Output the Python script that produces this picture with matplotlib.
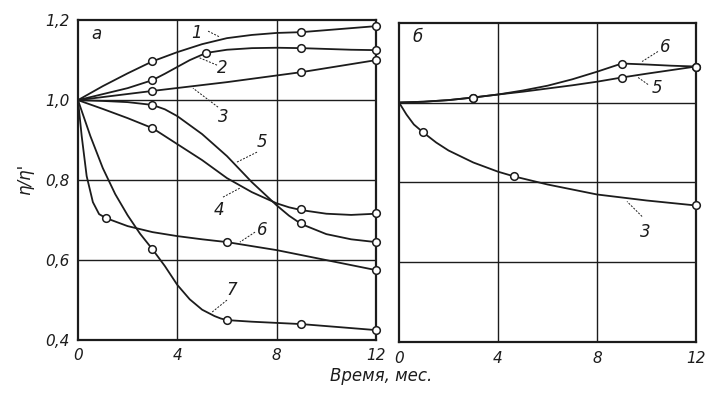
"""Относительная вязкость η/η' во времени — два поля (а, б)."""
import matplotlib
matplotlib.use("Agg")
import matplotlib.pyplot as plt

# ── данные: поле «а» (линии по точкам) ──
A_X1 = [0, 1, 2, 3, 4, 5, 6, 7, 8, 9, 10, 11, 12]
A_Y1 = [1.0, 1.035, 1.067, 1.097, 1.12, 1.14, 1.155, 1.163, 1.168, 1.17, 1.175, 1.18, 1.185]
A_X2 = [0, 1, 2, 3, 3.5, 4, 4.5, 5.16, 6, 7, 8, 9, 10, 11, 12]
A_Y2 = [1.0, 1.015, 1.03, 1.05, 1.066, 1.083, 1.1, 1.118, 1.126, 1.13, 1.131, 1.13, 1.128,
        1.126, 1.125]
A_X3 = [0, 3, 6, 9, 12]
A_Y3 = [1.0, 1.023, 1.045, 1.07, 1.10]
A_X4 = [0, 1, 2, 3, 4, 5, 6, 7, 8, 8.5, 9, 10, 11, 12]
A_Y4 = [1.0, 0.978, 0.955, 0.93, 0.89, 0.85, 0.805, 0.77, 0.742, 0.732, 0.725, 0.716, 0.713,
        0.716]
A_X5 = [0, 1, 2, 3, 3.5, 4, 5, 6, 7, 8, 8.5, 9, 10, 11, 12]
A_Y5 = [1.0, 0.998, 0.995, 0.988, 0.977, 0.96, 0.915, 0.86, 0.795, 0.737, 0.711, 0.69, 0.665,
        0.652, 0.645]
A_X6 = [0, 0.15, 0.35, 0.6, 0.85, 1.13, 2, 3, 4, 5, 6, 8, 10, 12]
A_Y6 = [1.0, 0.91, 0.81, 0.745, 0.715, 0.705, 0.685, 0.67, 0.66, 0.652, 0.645, 0.625, 0.6, 0.575]
A_X7 = [0, 0.5, 1, 1.5, 2, 2.5, 3, 3.5, 4, 4.5, 5, 5.5, 5.75, 6, 7, 8, 9, 10, 11, 12]
A_Y7 = [1.0, 0.91, 0.83, 0.765, 0.712, 0.666, 0.627, 0.585, 0.538, 0.502, 0.476, 0.46, 0.454,
        0.45, 0.446, 0.443, 0.44, 0.435, 0.43, 0.425]

# экспериментальные точки (кружки)
A_MX = [[3, 9, 12], [3, 5.16, 9, 12], [3, 9, 12], [3, 9, 12], [3, 9, 12],
        [1.13, 6, 12], [3, 6, 9, 12]]
A_MY = [[1.0975, 1.17, 1.185], [1.05, 1.118, 1.13, 1.125], [1.023, 1.07, 1.10],
        [0.93, 0.7275, 0.7175], [0.988, 0.6925, 0.645], [0.705, 0.645, 0.575],
        [0.627, 0.45, 0.44, 0.425]]

# ── поле «б» ──
B_X6 = [0, 1, 2, 3, 4, 5, 6, 7, 8, 9, 10, 11, 12]
B_Y6 = [1.0, 1.002, 1.006, 1.0125, 1.02, 1.03, 1.042, 1.058, 1.077, 1.0975, 1.095, 1.092, 1.09]
B_X5 = [0, 1, 2, 3, 4, 5, 6, 7, 8, 9, 10, 11, 12]
B_Y5 = [1.0, 1.002, 1.006, 1.0125, 1.02, 1.027, 1.035, 1.043, 1.052, 1.0625, 1.072, 1.081, 1.09]
B_X3 = [0, 0.3, 0.6, 0.98, 1.5, 2, 3, 4, 4.66, 6, 8, 10, 12]
B_Y3 = [1.0, 0.97, 0.945, 0.925, 0.9, 0.88, 0.85, 0.827, 0.815, 0.795, 0.77, 0.755, 0.7425]
B_MX = [[3, 9, 12], [3, 9, 12], [0.98, 4.66, 12]]
B_MY = [[1.0125, 1.0975, 1.09], [1.0125, 1.0625, 1.09], [0.925, 0.815, 0.7425]]

# номера кривых: (текст, позиция подписи, начало и конец выноски)
A_LABELS = [("1", (4.79, 1.1675), (5.24, 1.1725), (5.72, 1.1575)),
            ("2", (5.80, 1.080), (5.60, 1.0875), (4.83, 1.1075)),
            ("3", (5.84, 0.9575), (5.64, 0.9825), (4.63, 1.030)),
            ("5", (7.41, 0.895), (7.21, 0.870), (6.40, 0.845)),
            ("4", (5.68, 0.725), (5.84, 0.7575), (6.52, 0.780)),
            ("6", (7.41, 0.675), (7.13, 0.670), (6.52, 0.645)),
            ("7", (6.20, 0.525), (6.00, 0.500), (5.40, 0.470))]
B_LABELS = [("6", (10.75, 1.140), (10.46, 1.1275), (9.82, 1.1025)),
            ("5", (10.42, 1.0375), (10.06, 1.045), (9.66, 1.0625)),
            ("3", (9.94, 0.675), (9.82, 0.715), (9.21, 0.7525))]

X_TICKS = [0, 4, 8, 12]
Y_TICKS = [0.4, 0.6, 0.8, 1.0, 1.2]
Y_TICKLABELS = ["0,4", "0,6", "0,8", "1,0", "1,2"]

INK = "#1c1c1c"
FONT = dict(family="DejaVu Sans", style="italic", color=INK)

fig = plt.figure(figsize=(7.05, 3.95), dpi=100)
ax_a = fig.add_axes([0.1106, 0.139, 0.4227, 0.810])
ax_b = fig.add_axes([0.566, 0.133, 0.4213, 0.810])


def oformit(ax, letter, ylabels):
    ax.set_xlim(0, 12)
    ax.set_ylim(0.4, 1.2)
    for v in (4, 8):
        ax.axvline(v, color=INK, lw=1.0, zorder=1)
    for v in (0.6, 0.8, 1.0):
        ax.axhline(v, color=INK, lw=1.0, zorder=1)
    for s in ax.spines.values():
        s.set_linewidth(1.6)
        s.set_color(INK)
    ax.set_xticks(X_TICKS)
    ax.set_xticklabels([str(t) for t in X_TICKS], fontsize=11, **FONT)
    ax.set_yticks(Y_TICKS)
    if ylabels:
        ax.set_yticklabels(Y_TICKLABELS, fontsize=11, **FONT)
    else:
        ax.set_yticklabels([])
    ax.tick_params(length=0, pad=6)
    ax.text(0.75, 1.165, letter, fontsize=12, ha="center", va="center", **FONT)


def krivye(ax, lines, mx, my, labels):
    for x, y in lines:
        ax.plot(x, y, color=INK, lw=1.3, zorder=3)
    for x, y in zip(mx, my):
        ax.plot(x, y, ls="none", marker="o", ms=5.5, mfc="white", mec=INK, mew=1.1,
                zorder=4, clip_on=False)
    for txt, pos, p0, p1 in labels:
        ax.plot([p0[0], p1[0]], [p0[1], p1[1]], color=INK, lw=0.7, ls=(0, (2, 1.5)), zorder=3)
        ax.text(pos[0], pos[1], txt, fontsize=12, ha="center", va="center", **FONT)


oformit(ax_a, "а", True)
krivye(ax_a, [(A_X1, A_Y1), (A_X2, A_Y2), (A_X3, A_Y3), (A_X4, A_Y4),
              (A_X5, A_Y5), (A_X6, A_Y6), (A_X7, A_Y7)], A_MX, A_MY, A_LABELS)

oformit(ax_b, "б", False)
krivye(ax_b, [(B_X6, B_Y6), (B_X5, B_Y5), (B_X3, B_Y3)], B_MX, B_MY, B_LABELS)

fig.text(0.036, 0.545, "η/η'", rotation=90, fontsize=12, ha="center", va="center", **FONT)
fig.text(0.54, 0.048, "Время, мес.", fontsize=12, ha="center", va="center", **FONT)

fig.savefig("out.png", dpi=100)
